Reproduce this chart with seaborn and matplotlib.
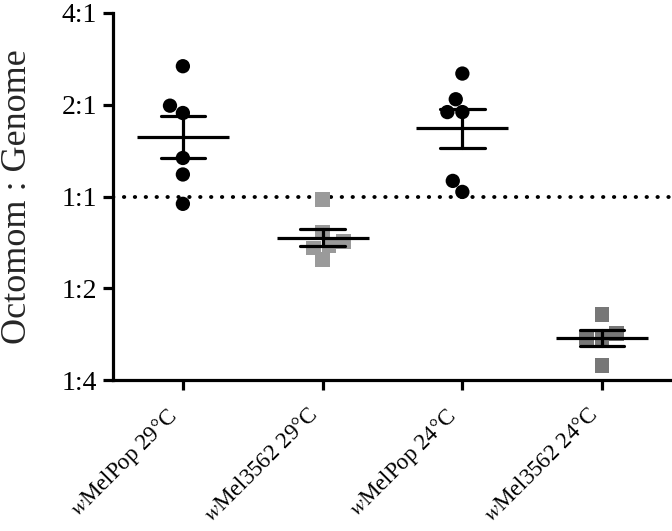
import numpy as np
import pandas as pd
import seaborn as sns
import matplotlib.pyplot as plt

# groups on the x axis
groups = ["wMelPop 29°C", "wMel3562 29°C", "wMelPop 24°C", "wMel3562 24°C"]
tick_labels = [r"$\mathit{w}$MelPop 29°C", r"$\mathit{w}$Mel3562 29°C",
               r"$\mathit{w}$MelPop 24°C", r"$\mathit{w}$Mel3562 24°C"]

# log2(Octomom : Genome) per replicate
wmelpop_29 = [1.42, 0.99, 0.91, 0.42, 0.24, -0.08]
wmel3562_29 = [-0.03, -0.39, -0.54, -0.56, -0.49, -0.69]
wmelpop_24 = [1.34, 1.06, 0.92, 0.92, 0.17, 0.05]
wmel3562_24 = [-1.29, -1.49, -1.55, -1.54, -1.84]

y_ticks = [-2, -1, 0, 1, 2]
y_labels = ["1:4", "1:2", "1:1", "2:1", "4:1"]

colors = {"wMelPop 29°C": "black", "wMel3562 29°C": "#9a9a9a",
          "wMelPop 24°C": "black", "wMel3562 24°C": "#777777"}
markers = {"wMelPop 29°C": "o", "wMel3562 29°C": "s",
           "wMelPop 24°C": "o", "wMel3562 24°C": "s"}

rows = []
for g, vals in zip(groups, [wmelpop_29, wmel3562_29, wmelpop_24, wmel3562_24]):
    for v in vals:
        rows.append({"group": g, "value": v})
df = pd.DataFrame(rows)

sns.set_theme(style="ticks")
plt.rcParams["font.family"] = ["Liberation Serif", "DejaVu Serif"]
plt.rcParams["mathtext.fontset"] = "stix"

fig = plt.figure(figsize=(6.72, 5.31), dpi=100)
ax = fig.add_axes([113 / 672, 1 - 380 / 531, (672 - 113) / 672, (380 - 13) / 531])

ax.axhline(0, color="black", lw=2.8, linestyle=(0, (0.1, 2.7)),
           dash_capstyle="round", zorder=0)

# dots / squares
for mk, sz in [("o", 10.3), ("s", 10.6)]:
    sub = df[df["group"].map(markers) == mk]
    sns.swarmplot(data=sub, x="group", y="value", order=groups, hue="group",
                  palette=colors, marker=mk, size=sz, linewidth=0,
                  legend=False, ax=ax, zorder=2)

# mean +/- SEM
sns.pointplot(data=df, x="group", y="value", order=groups, errorbar="se",
              capsize=0.32, linestyle="none", marker="_", markersize=66,
              markeredgewidth=2.3, color="black",
              err_kws={"linewidth": 2.3, "zorder": 4}, zorder=4, ax=ax)

ax.set_xlim(-0.5, 3.5)
ax.set_ylim(-2, 2)
ax.set_yticks(y_ticks)
ax.set_yticklabels(y_labels, fontsize=20)
ax.set_xticks(range(len(groups)))
ax.set_xticklabels(tick_labels, fontsize=16.5, rotation=45, ha="right")
ax.set_xlabel("")
ax.set_ylabel("Octomom : Genome", fontsize=26, labelpad=20)

for s in ["top", "right"]:
    ax.spines[s].set_visible(False)
for s in ["left", "bottom"]:
    ax.spines[s].set_linewidth(2.3)
    ax.spines[s].set_color("black")
ax.tick_params(axis="both", length=7.5, width=2.3, color="black", labelcolor="black")
ax.tick_params(axis="y", pad=4)
ax.tick_params(axis="x", pad=10)

fig.savefig("out.png", dpi=100)
